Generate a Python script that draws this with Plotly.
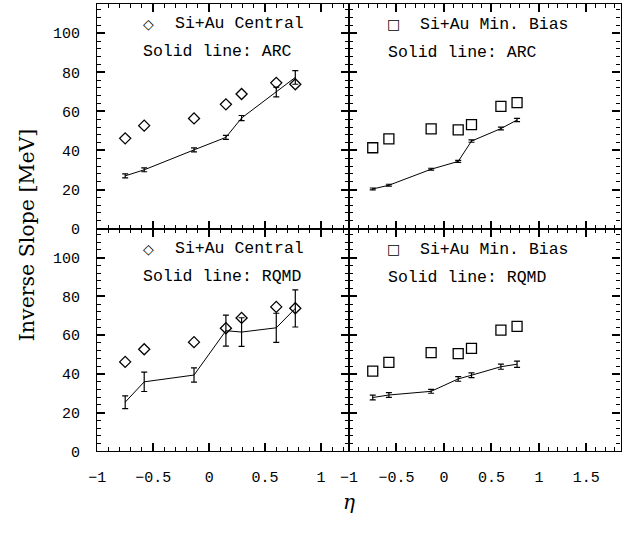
import plotly.graph_objects as go

# ---------------- data ----------------
eta = [-0.75, -0.58, -0.135, 0.15, 0.29, 0.60, 0.77]

central_data = [46.2, 52.7, 56.4, 63.6, 68.9, 74.6, 73.9]
minbias_data = [41.4, 45.9, 51.0, 50.5, 53.2, 62.6, 64.5]

arc_central = [27.0, 30.1, 40.3, 46.7, 56.6, 69.9, 77.4]
arc_central_err = [1.0, 1.0, 1.0, 1.0, 1.3, 2.5, 3.5]
arc_minbias = [20.3, 22.2, 30.4, 34.4, 44.8, 51.2, 55.6]
arc_minbias_err = [0.5, 0.5, 0.5, 0.5, 0.6, 0.7, 0.8]

rqmd_central = [25.4, 35.9, 39.4, 62.3, 61.6, 63.8, 73.8]
rqmd_central_err = [3.3, 5.0, 3.7, 8.0, 7.4, 7.5, 9.6]
rqmd_minbias = [27.8, 29.1, 31.0, 37.4, 39.3, 43.7, 45.0]
rqmd_minbias_err = [1.2, 1.2, 1.0, 1.2, 1.2, 1.3, 1.6]

x_range_left = [-1, 1.25]
x_range_right = [-1, 1.86]
y_range = [0, 115]

W, H = 623, 533
TICKFONT = dict(family="Liberation Mono", size=15, color="black")
TXTFONT = dict(family="Liberation Mono", size=16.5, color="black")

fig = go.Figure()

panels = {
    "tl": ("x3", "y3"),
    "tr": ("x4", "y4"),
    "bl": ("x", "y"),
    "br": ("x2", "y2"),
}

def add_panel(key, data, data_symbol, data_size, model, model_err):
    xa, ya = panels[key]
    fig.add_trace(go.Scatter(
        x=eta, y=model, mode="lines", xaxis=xa, yaxis=ya,
        line=dict(color="black", width=1),
        error_y=dict(type="data", array=model_err, visible=True,
                     color="black", thickness=1.2, width=3),
        showlegend=False, hoverinfo="skip"))
    fig.add_trace(go.Scatter(
        x=eta, y=data, mode="markers", xaxis=xa, yaxis=ya,
        marker=dict(symbol=data_symbol, size=data_size,
                    color="black", line=dict(color="black", width=1.3)),
        showlegend=False, hoverinfo="skip"))

add_panel("tl", central_data, "diamond-open", 8.5, arc_central, arc_central_err)
add_panel("tr", minbias_data, "square-open", 10, arc_minbias, arc_minbias_err)
add_panel("bl", central_data, "diamond-open", 8.5, rqmd_central, rqmd_central_err)
add_panel("br", minbias_data, "square-open", 10, rqmd_minbias, rqmd_minbias_err)

def px(x):
    return x / W

def py(y):
    return 1 - y / H

xl = [px(89.5), px(345)]
xr = [px(345), px(620.5)]
yb = [py(460), py(233)]
yt = [py(233), py(4)]

def xaxis(domain, rng, anchor, labels):
    return dict(domain=domain, range=rng, anchor=anchor,
                dtick=0.5, tick0=0,
                showticklabels=labels, ticks="inside", ticklen=8,
                tickwidth=1.5, tickcolor="black", mirror="allticks",
                showline=True, linecolor="black", linewidth=1.2,
                gridcolor="white", zerolinecolor="white",
                tickfont=TICKFONT, ticklabelstandoff=12,
                minor=dict(ticks="inside", ticklen=4, dtick=0.1,
                           tickcolor="black", tickwidth=1.2))

def yaxis(domain, anchor, labels):
    return dict(domain=domain, range=y_range, anchor=anchor,
                dtick=20, tick0=0,
                showticklabels=labels, ticks="inside", ticklen=8,
                tickwidth=1.5, tickcolor="black", mirror="allticks",
                showline=True, linecolor="black", linewidth=1.2,
                gridcolor="white", zerolinecolor="white",
                tickfont=TICKFONT, ticklabelstandoff=13,
                minor=dict(ticks="inside", ticklen=4, dtick=4,
                           tickcolor="black", tickwidth=1.2))

fig.update_layout(
    width=W, height=H,
    margin=dict(l=0, r=0, t=0, b=0),
    plot_bgcolor="white",
    xaxis=xaxis(xl, x_range_left, "y", True),
    xaxis2=xaxis(xr, x_range_right, "y2", True),
    xaxis3=xaxis(xl, x_range_left, "y3", False),
    xaxis4=xaxis(xr, x_range_right, "y4", False),
    yaxis=yaxis(yb, "x", True),
    yaxis2=yaxis(yb, "x2", False),
    yaxis3=yaxis(yt, "x3", True),
    yaxis4=yaxis(yt, "x4", False),
)

ann = []
def text(x, y, s, font=TXTFONT, xanchor="left", angle=0):
    ann.append(dict(x=px(x), y=py(y), xref="paper", yref="paper", text=s,
                    showarrow=False, xanchor=xanchor, yanchor="middle",
                    font=font, textangle=angle))

SYMFONT = dict(family="DejaVu Sans", size=14, color="black")
for (sym, sx, top, label, model) in [
    ("\u25c7", 141.7, 24, "Si+Au Central", "Solid line: ARC"),
    ("\u25a1", 390, 24.5, "Si+Au Min. Bias", "Solid line: ARC"),
    ("\u25c7", 141.7, 253.5, "Si+Au Central", "Solid line: RQMD"),
    ("\u25a1", 390, 254, "Si+Au Min. Bias", "Solid line: RQMD"),
]:
    text(sx, top, sym, font=SYMFONT, xanchor="center")
    text(sx + 25, top, label)
    text(sx - 7.5, top + 28.5, model)

text(18, 239, "Inverse Slope [MeV]",
     font=dict(family="DejaVu Serif", size=20.5, color="black"),
     xanchor="center", angle=-90)
text(345, 512, "<i>\u03b7</i>",
     font=dict(family="DejaVu Serif", size=20, color="black"),
     xanchor="center")

fig.update_layout(annotations=ann)

fig.write_html("out.html")
